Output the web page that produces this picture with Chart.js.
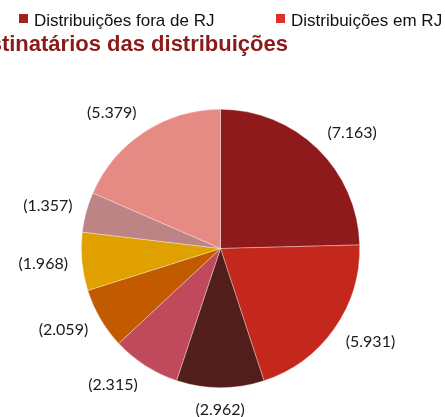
<!DOCTYPE html>
<html>
<head>
<meta charset="utf-8">
<script src="https://cdn.jsdelivr.net/npm/chart.js@4"></script>
<style>
  html, body { margin: 0; padding: 0; background: #ffffff; overflow: hidden; }
  #wrap { position: relative; width: 445px; height: 417px; }
</style>
</head>
<body>
<div id="wrap"><canvas id="c" width="445" height="417"></canvas></div>
<script>
// ---- data ----
const categories = ["Destino 1", "Destino 2", "Destino 3", "Destino 4", "Destino 5", "Destino 6", "Destino 7", "Destino 8"];
const values = [7163, 5931, 2962, 2315, 2059, 1968, 1357, 5379];
const sliceColors = ["#8E1A1C", "#C4281D", "#521E1C", "#C04A5C", "#C25B00", "#E0A000", "#BC8485", "#E68A84"];
const legendLabels = ["Distribuições fora de RJ", "Distribuições em RJ"];
const legendColors = ["#A6201F", "#E0302A"];
const titleText = "Destinatários das distribuições";

function fmtBR(n) {
  return String(n).replace(/\B(?=(\d{3})+(?!\d))/g, ".");
}

// header: legend + (clipped) title, drawn as canvas text
const headerPlugin = {
  id: "header",
  afterDraw(chart) {
    const ctx = chart.ctx;
    ctx.save();
    // legend
    ctx.font = "17px 'Liberation Sans', Arial, sans-serif";
    ctx.textBaseline = "alphabetic";
    ctx.textAlign = "left";
    const boxX = [19, 276];
    legendLabels.forEach((t, i) => {
      ctx.fillStyle = legendColors[i];
      ctx.fillRect(boxX[i], 14, 9, 9);
      ctx.fillStyle = "#111111";
      ctx.fillText(t, boxX[i] + 15, 26);
    });
    // title (right edge fixed, left part clipped by canvas)
    ctx.font = "bold 22px 'Liberation Sans', Arial, sans-serif";
    ctx.fillStyle = "#8B1A1A";
    ctx.textAlign = "right";
    ctx.fillText(titleText, 288, 51);
    ctx.restore();
  }
};

// value labels outside each slice
const outLabels = {
  id: "outLabels",
  afterDatasetsDraw(chart) {
    const ctx = chart.ctx;
    const meta = chart.getDatasetMeta(0);
    ctx.save();
    ctx.font = "16px Lato, 'Open Sans', sans-serif";
    ctx.fillStyle = "#1a1a1a";
    ctx.textAlign = "center";
    ctx.textBaseline = "middle";
    const gap = 14;
    const h = 17;
    meta.data.forEach((arc, i) => {
      const p = arc.getProps(["x", "y", "startAngle", "endAngle", "outerRadius"], true);
      const mid = (p.startAngle + p.endAngle) / 2;
      const txt = "(" + fmtBR(values[i]) + ")";
      const w = ctx.measureText(txt).width;
      const c = Math.cos(mid), s = Math.sin(mid);
      const kx = Math.max(-1, Math.min(1, 2 * c));
      const x = p.x + (p.outerRadius + gap) * c + (w / 2) * kx;
      const y = p.y + (p.outerRadius + gap) * s + (h / 2) * s;
      ctx.fillText(txt, x, y);
    });
    ctx.restore();
  }
};

new Chart(document.getElementById("c"), {
  type: "pie",
  data: {
    labels: categories,
    datasets: [{
      data: values,
      backgroundColor: sliceColors,
      borderColor: "rgba(255,255,255,0.55)",
      borderWidth: 0.6
    }]
  },
  options: {
    responsive: false,
    animation: false,
    layout: { padding: { top: 109, bottom: 29, left: 60, right: 64 } },
    plugins: {
      legend: { display: false },
      title: { display: false },
      tooltip: { enabled: false }
    }
  },
  plugins: [outLabels, headerPlugin]
});
</script>
</body>
</html>
